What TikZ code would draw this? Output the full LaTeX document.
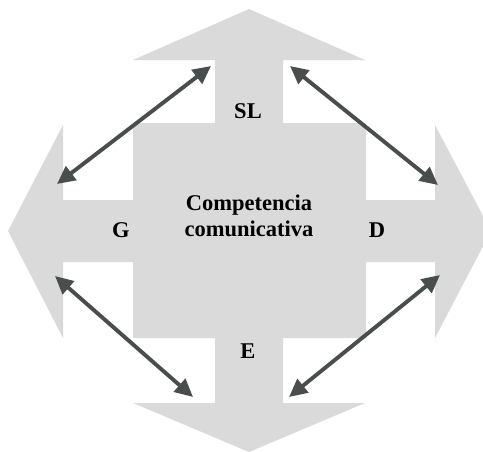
\documentclass[tikz,border=0pt]{standalone}
\usepackage{fontspec}
\setmainfont{Liberation Serif}
\usetikzlibrary{arrows.meta}
\definecolor{shapegray}{HTML}{D9DAD9}
\definecolor{arrowgray}{HTML}{4A4D4D}
\begin{document}
\begin{tikzpicture}[x=1pt,y=-1pt,
  lbl/.style={font=\fontsize{22.5}{25.5}\selectfont\bfseries, inner sep=0pt, text=black},
  link/.style={draw=arrowgray, line width=3.9pt, {Triangle[length=18pt,width=17pt]}-{Triangle[length=18pt,width=17pt]}}
]
\useasboundingbox (0,0) rectangle (483,451);
% gray cross-arrow shape
\fill[shapegray] (249,9) -- (365,60) -- (283,60) -- (283,123) -- (366,123) -- (366,200)
  -- (435,200) -- (435,125) -- (491,231) -- (435,338) -- (435,262) -- (366,262)
  -- (366,338) -- (283,338) -- (283,403) -- (365,403) -- (249,452) -- (133,403)
  -- (215,403) -- (215,338) -- (133,338) -- (133,262) -- (63,262) -- (63,338)
  -- (8,231) -- (63,125) -- (63,200) -- (133,200) -- (133,123) -- (215,123)
  -- (215,60) -- (133,60) -- cycle;
% labels
\node[lbl, anchor=base] (sl) at (248,118) {SL};
\node[lbl, anchor=base] (g) at (121,237) {G};
\node[lbl, anchor=base] (d) at (377,237) {D};
\node[lbl, anchor=base] (e) at (248,358) {E};
\node[lbl, align=center] (cc) at (249,216) {Competencia\\comunicativa};
% arrow end points
\coordinate (tl1) at (57,184);
\coordinate (tl2) at (211,66);
\coordinate (tr1) at (290,66);
\coordinate (tr2) at (438,185);
\coordinate (bl1) at (55,276);
\coordinate (bl2) at (193,397);
\coordinate (br1) at (440,275);
\coordinate (br2) at (289,397);
\draw[link] (tl1) -- (tl2);
\draw[link] (tr1) -- (tr2);
\draw[link] (bl1) -- (bl2);
\draw[link] (br1) -- (br2);
\end{tikzpicture}
\end{document}
